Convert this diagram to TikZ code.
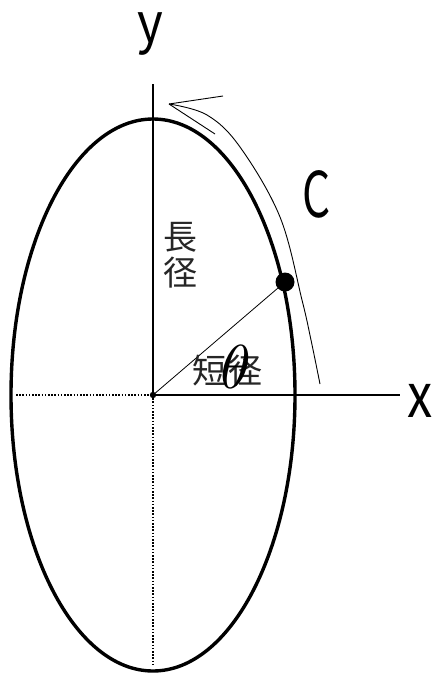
\documentclass[tikz,border=0pt]{standalone}
\usepackage{fontspec}
\usepackage{graphicx}
\newfontfamily\jp{Noto Sans CJK JP}
\begin{document}
\begin{tikzpicture}[x=1pt,y=-1pt,
  axis/.style={line width=1.3pt},
  guide/.style={line width=1.5pt,dash pattern=on 1.6pt off 1.6pt},
  curve/.style={line width=0.9pt},
  lbl/.style={inner sep=0pt,font=\jp},
  kanji/.style={inner sep=0pt,font=\jp\fontsize{34}{34}\selectfont,text=black!85}]
\useasboundingbox (0,0) rectangle (433,675);
% ellipse
\draw[line width=3.4pt] (153,395) ellipse [x radius=142pt, y radius=276pt];
% named points
\coordinate (O) at (153,395);
\coordinate (ytop) at (153,84);
\coordinate (xend) at (400,395);
\coordinate (left) at (16,395);
\coordinate (bottom) at (153,666);
\coordinate (P) at (285,282);
% axes
\draw[axis] (O) -- (ytop);
\draw[axis] (O) -- (xend);
\draw[guide] (left) -- (O);
\draw[guide] (O) -- (bottom);
% radius line
\draw[line width=0.8pt] (O) -- (P);
\fill (O) circle[radius=3.2pt];
\fill (P) circle[radius=9.5pt];
% arrow C
\coordinate (tip) at (169,104);
\coordinate (cend) at (320,384);
\coordinate (barbA) at (223,96);
\coordinate (barbB) at (215,134);
\draw[curve] plot[smooth,tension=0.6] coordinates {(cend) (311,340) (302,300) (280,217) (240,147) (207,115) (tip)};
\draw[curve] (tip) -- (barbA);
\draw[curve] (tip) -- (barbB);
% labels
\node[lbl] (ylab) at (150,34) {\scalebox{0.9}[1]{\fontsize{55}{55}\selectfont y}};
\node[lbl] (xlab) at (420,401) {\scalebox{0.83}[1]{\fontsize{61}{61}\selectfont x}};
\node[lbl] (Clab) at (317,194) {\scalebox{0.7}[1]{\fontsize{63}{63}\selectfont C}};
\node[kanji] (k1) at (180,237) {長};
\node[kanji] (k2) at (180,273) {径};
\node[kanji] (s1) at (209,371) {短};
\node[kanji] (s2) at (245,371) {径};
\node[inner sep=0pt] (th) at (236,367) {\scalebox{6.2}{$\theta$}};
\end{tikzpicture}
\end{document}
